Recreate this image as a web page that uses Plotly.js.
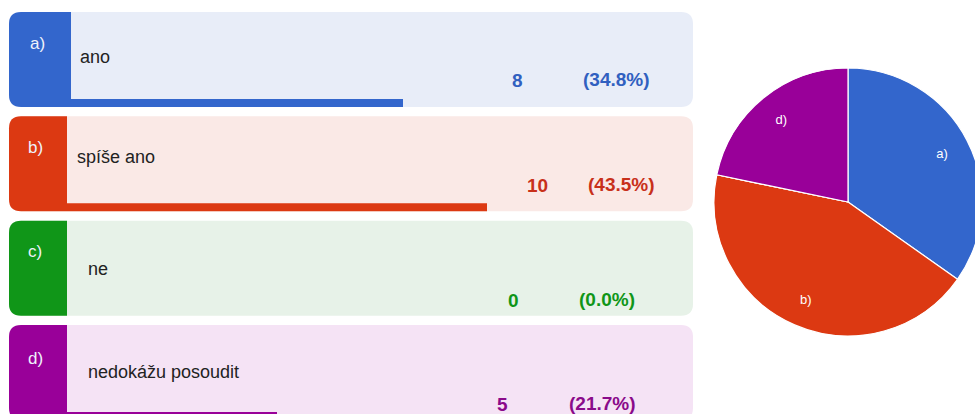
<!DOCTYPE html>
<html>
<head>
<meta charset="utf-8">
<script src="https://cdn.plot.ly/plotly-3.0.1.min.js"></script>
<style>
  html, body { margin: 0; padding: 0; overflow: hidden; background: #ffffff; }
  #chart { width: 990px; height: 414px; }
</style>
</head>
<body>
<div id="chart"></div>
<script>
// ---- data ----
const letters = ['a)', 'b)', 'c)', 'd)'];
const answers = ['ano', 'spíše ano', 'ne', 'nedokážu posoudit'];
const counts = [8, 10, 0, 5];
const percents = ['34.8', '43.5', '0.0', '21.7'];

// ---- styles ----
const mainColors = ['#3366cc', '#dc3912', '#109618', '#990099'];
const tintColors = ['#e8edf8', '#fae9e6', '#e7f2e8', '#f5e3f5'];
const textColors = ['#3060c0', '#c8301a', '#109618', '#8a0a8a'];

// ---- layout geometry (pixels) ----
const W = 990, H = 414;
const FONT = '"Liberation Sans", Arial, sans-serif';
const barCenter0 = 103, step = 104.33, barThick = 8;
const cardLeft = 9, cardRight = 693, cardAbove = 91, cardBelow = 4, radius = 12;
const zeroPx = 67, pxPerUnit = 42;
// per-card text/strip offsets (layout only)
const cardLayout = [
  {strip: 71, lab: 31, nameX: 78, nameY: 45, numY: 69, cntX: 517, pctX: 616},
  {strip: 67, lab: 31, nameX: 75, nameY: 41, numY: 69, cntX: 537, pctX: 621},
  {strip: 67, lab: 31, nameX: 86, nameY: 48, numY: 80, cntX: 513, pctX: 607},
  {strip: 67, lab: 34, nameX: 86, nameY: 47, numY: 80, cntX: 502, pctX: 602}
];

const px = x => x / W;
const py = y => 1 - y / H;

function roundPath(x0, y0, x1, y1, r, rl, rr) {
  const a = rl ? r : 0, b = rr ? r : 0;
  const P = (x, y) => px(x) + ',' + py(y);
  let d = 'M ' + P(x0 + a, y0) + ' L ' + P(x1 - b, y0);
  if (b) d += ' Q ' + P(x1, y0) + ' ' + P(x1, y0 + b);
  d += ' L ' + P(x1, y1 - b);
  if (b) d += ' Q ' + P(x1, y1) + ' ' + P(x1 - b, y1);
  d += ' L ' + P(x0 + a, y1);
  if (a) d += ' Q ' + P(x0, y1) + ' ' + P(x0, y1 - a);
  d += ' L ' + P(x0, y0 + a);
  if (a) d += ' Q ' + P(x0, y0) + ' ' + P(x0 + a, y0);
  return d + ' Z';
}

const shapes = [];
const annotations = [];
letters.forEach((L, i) => {
  const c = barCenter0 + i * step;
  const top = c - cardAbove, bot = c + cardBelow;
  const cl = cardLayout[i];
  shapes.push({type: 'path', xref: 'paper', yref: 'paper', layer: 'below',
    path: roundPath(cardLeft, top, cardRight, bot, radius, true, true),
    fillcolor: tintColors[i], line: {width: 0}});
  shapes.push({type: 'path', xref: 'paper', yref: 'paper', layer: 'below',
    path: roundPath(cardLeft, top, cl.strip, bot, radius, true, false),
    fillcolor: mainColors[i], line: {width: 0}});
  const ann = (text, x, y, xa, font) => annotations.push({
    text, x: px(x), y: py(y), xref: 'paper', yref: 'paper',
    xanchor: xa, yanchor: 'middle', showarrow: false, font});
  ann(L, (cardLeft + cl.strip) / 2 - 3, top + cl.lab, 'center',
      {family: FONT, size: 17, color: '#eef2fb'});
  ann(answers[i], cl.nameX, top + cl.nameY, 'left',
      {family: FONT, size: 18, color: '#222222'});
  ann('<b>' + counts[i] + '</b>', cl.cntX, top + cl.numY, 'center',
      {family: FONT, size: 19, color: textColors[i]});
  ann('<b>(' + percents[i] + '%)</b>', cl.pctX, top + cl.numY - 1, 'center',
      {family: FONT, size: 19, color: textColors[i]});
});

const barTrace = {
  type: 'bar', orientation: 'h',
  x: counts, y: letters,
  width: barThick / step,
  marker: {color: mainColors, line: {width: 0}},
  hoverinfo: 'none', showlegend: false,
  xaxis: 'x', yaxis: 'y'
};

const pieDomain = {x: [px(714), px(982)], y: [py(336), py(68)]};

const pieTrace = {
  type: 'pie',
  labels: letters, values: counts,
  sort: false, direction: 'clockwise', rotation: 0,
  marker: {colors: mainColors, line: {color: '#ffffff', width: 1.2}},
  textinfo: 'none',
  domain: pieDomain,
  hoverinfo: 'none', showlegend: false
};

// transparent ring on top, used only to place the slice labels further out
const pieLabelTrace = {
  type: 'pie',
  labels: letters, values: counts, hole: 0.58,
  sort: false, direction: 'clockwise', rotation: 0,
  marker: {colors: mainColors.map(() => 'rgba(0,0,0,0)'), line: {width: 0}},
  textinfo: 'label', textposition: 'inside', insidetextorientation: 'horizontal',
  textfont: {family: FONT, size: 13, color: '#ffffff'},
  domain: pieDomain,
  hoverinfo: 'none', showlegend: false
};

const layout = {
  width: W, height: H,
  margin: {l: 0, r: 0, t: 0, b: 0, pad: 0},
  paper_bgcolor: '#ffffff', plot_bgcolor: 'rgba(0,0,0,0)',
  showlegend: false,
  xaxis: {domain: [0, 1], range: [-zeroPx / pxPerUnit, (W - zeroPx) / pxPerUnit],
          visible: false, fixedrange: true},
  yaxis: {domain: [0, 1], type: 'category', categoryorder: 'array', categoryarray: letters,
          range: [(H - barCenter0) / step, -barCenter0 / step], autorange: false,
          visible: false, fixedrange: true},
  shapes, annotations
};

Plotly.newPlot('chart', [barTrace, pieTrace, pieLabelTrace], layout, {staticPlot: true, displayModeBar: false});
</script>
</body>
</html>
